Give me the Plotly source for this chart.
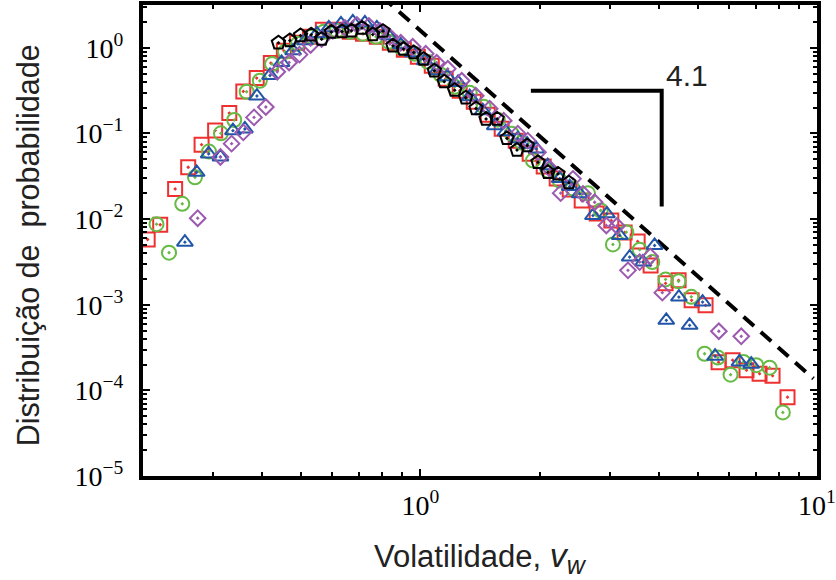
import math
import plotly.graph_objects as go

# ---- binned volatility distributions (five series) ----
sq_x = [0.2055, 0.221, 0.241, 0.260, 0.281, 0.304, 0.330, 0.358, 0.387, 0.420,
        0.453, 0.489, 0.527, 0.568, 0.616, 0.664, 0.717, 0.777, 0.838, 0.909,
        0.986, 1.069, 1.159, 1.257, 1.364, 1.479, 1.604, 1.740, 1.887, 2.047,
        2.207, 2.380, 2.552, 2.784, 3.030, 3.274, 3.531, 3.807, 4.153, 4.478,
        4.830, 5.237, 5.648, 6.127, 6.642, 7.165, 7.726, 8.427]
sq_y = [5.78e-3, 8.59e-3, 0.0225, 0.0403, 0.0740, 0.108, 0.173, 0.310, 0.443, 0.663,
        0.923, 1.144, 1.343, 1.621, 1.621, 1.536, 1.456, 1.343, 1.144, 0.948,
        0.785, 0.617, 0.435, 0.315, 0.2348, 0.1656, 0.1137, 0.0824, 0.0581, 0.0410,
        0.0297, 0.0221, 0.01647, 0.01162, 0.00963, 0.00698, 0.00548, 0.00288, 0.001776, 0.001925,
        0.001125, 0.000984, 0.000213, 0.000225, 0.000172, 0.0001565, 0.0001483, 8.33e-5]

ci_x = [0.2163, 0.2326, 0.2512, 0.2704, 0.2933, 0.3144, 0.3396, 0.365, 0.394, 0.423,
        0.456, 0.491, 0.530, 0.571, 0.616, 0.664, 0.717, 0.773, 0.833, 0.898,
        0.969, 1.044, 1.126, 1.221, 1.332, 1.445, 1.568, 1.700, 1.802, 1.923,
        2.095, 2.246, 2.422, 2.647, 2.85, 3.059, 3.307, 3.572, 3.846, 4.153,
        4.478, 4.821, 5.207, 5.625, 6.055, 6.528, 7.029, 7.594, 8.201]
ci_y = [0.00872, 0.00405, 0.01508, 0.0308, 0.0614, 0.1003, 0.1437, 0.307, 0.4125, 0.6457,
        0.898, 1.113, 1.343, 1.536, 1.578, 1.536, 1.456, 1.343, 1.175, 1.0,
        0.851, 0.687, 0.4845, 0.351, 0.299, 0.2053, 0.1448, 0.0995, 0.0781, 0.0482,
        0.0368, 0.0282, 0.0227, 0.0200, 0.0126, 0.00506, 0.00704, 0.00439, 0.003145, 0.001977,
        0.001874, 0.001236, 0.0002677, 0.0002417, 0.0001524, 0.000215, 0.0001967, 0.000184, 5.52e-5]

tr_x = [0.2551, 0.2731, 0.2928, 0.3135, 0.3371, 0.3613, 0.3875, 0.418, 0.447, 0.478,
        0.512, 0.549, 0.588, 0.631, 0.676, 0.725, 0.777, 0.833, 0.893, 0.957,
        1.026, 1.100, 1.17, 1.245, 1.332, 1.437, 1.541, 1.642, 1.761, 1.86,
        1.962, 2.095, 2.246, 2.38, 2.522, 2.724, 2.954, 3.181, 3.371, 3.641,
        3.896, 4.170, 4.486, 4.774, 5.147, 5.535, 6.378, 6.828]
tr_y = [0.00538, 0.0352, 0.0577, 0.0532, 0.1078, 0.1128, 0.2736, 0.4755, 0.674, 0.923,
        1.207, 1.456, 1.710, 1.905, 2.01, 1.956, 1.710, 1.380, 1.084, 0.874,
        0.706, 0.539, 0.46, 0.394, 0.2685, 0.1844, 0.1233, 0.105, 0.087, 0.075,
        0.066, 0.0421, 0.0297, 0.024, 0.0197, 0.0110, 0.01153, 0.00644, 0.0036, 0.003145,
        0.00492, 0.000658, 0.001229, 0.000575, 0.001075, 0.0002503, 0.000215, 0.000202]

di_x = [0.2747, 0.3135, 0.3345, 0.358, 0.381, 0.408, 0.436, 0.467, 0.496, 0.529,
        0.564, 0.602, 0.646, 0.692, 0.742, 0.791, 0.838, 0.893, 0.957, 1.032,
        1.100, 1.173, 1.272, 1.380, 1.496, 1.623, 1.761, 1.866, 1.980, 2.119,
        2.259, 2.426, 2.571, 2.751, 2.944, 3.131, 3.338, 3.572, 3.800, 4.075,
        5.657, 6.442]
di_y = [0.01024, 0.0532, 0.0760, 0.1030, 0.154, 0.2037, 0.525, 0.674, 0.833, 1.078,
        1.263, 1.578, 1.710, 1.854, 1.805, 1.578, 1.343, 1.144, 1.027, 0.851,
        0.669, 0.569, 0.4125, 0.276, 0.1946, 0.141, 0.0995, 0.0824, 0.0602, 0.0389,
        0.0201, 0.0295, 0.0197, 0.01574, 0.00842, 0.00831, 0.00252, 0.003145, 0.00367, 0.001384,
        0.00049, 0.000428]

pe_x = [0.439, 0.469, 0.499, 0.531, 0.564, 0.597, 0.635, 0.671, 0.713, 0.759,
        0.805, 0.853, 0.907, 0.963, 1.019, 1.085, 1.149, 1.221, 1.302, 1.382,
        1.465, 1.562, 1.654, 1.753, 1.860, 1.980, 2.098, 2.224, 2.369]
pe_y = [1.144, 1.216, 1.391, 1.418, 1.263, 1.528, 1.549, 1.578, 1.701, 1.429,
        1.565, 1.055, 0.966, 0.882, 0.738, 0.539, 0.402, 0.320, 0.2614, 0.1956,
        0.1476, 0.1476, 0.0874, 0.0639, 0.0721, 0.0460, 0.0352, 0.0337, 0.0266]

# ---- power-law guide and slope marker ----
SLOPE = 4.1
SLOPE_LABEL = "4.1"
guide_c = 1.59                 # prefactor of the dashed power law
guide_x = [0.80, 9.8]
tri_x = [1.9, 4.06]            # horizontal leg of the slope marker
tri_top = 0.315

# ---- axis ticks ----
x_major = [1, 10]
x_major_text = ["10<sup>0</sup>", "10<sup>1</sup>"]
y_major = [1e-5, 1e-4, 1e-3, 1e-2, 1e-1, 1]
y_major_text = ["10<sup>\u22125</sup>", "10<sup>\u22124</sup>", "10<sup>\u22123</sup>",
                "10<sup>\u22122</sup>", "10<sup>\u22121</sup>", "10<sup>0</sup>"]

x_minor = [m * 10.0 ** e for e in (-1, 0) for m in range(2, 10)]
y_minor = [m * 10.0 ** e for e in range(-5, 1) for m in range(2, 10)]

series = [
    (sq_x, sq_y, "square-open-dot", "#ee3030", 14),
    (ci_x, ci_y, "circle-open-dot", "#66bb44", 14),
    (tr_x, tr_y, "triangle-up-open-dot", "#2255a8", 14),
    (di_x, di_y, "diamond-open-dot", "#9b59b0", 12),
    (pe_x, pe_y, "pentagon-open-dot", "#000000", 14),
]

fig = go.Figure()

guide_y = [guide_c * x ** (-SLOPE) for x in guide_x]
fig.add_trace(go.Scatter(x=guide_x, y=guide_y, mode="lines",
                         line=dict(color="black", width=4, dash="14px,9px"),
                         hoverinfo="skip"))

for xs, ys, sym, col, sz in series:
    fig.add_trace(go.Scatter(
        x=xs, y=ys, mode="markers",
        marker=dict(symbol=sym, size=sz, color=col,
                    line=dict(width=2, color=col)),
    ))

tri_bottom = tri_top * (tri_x[0] / tri_x[1]) ** SLOPE
fig.add_trace(go.Scatter(x=[tri_x[0], tri_x[1], tri_x[1]],
                         y=[tri_top, tri_top, tri_bottom], mode="lines",
                         line=dict(color="black", width=4), hoverinfo="skip"))

fig.add_annotation(x=math.log10(4.69), y=math.log10(0.477), xref="x", yref="y",
                   text=SLOPE_LABEL, showarrow=False, xanchor="center", yanchor="middle",
                   font=dict(family="Liberation Sans", size=30, color="#222222"))

fig.add_annotation(x=-0.1706, y=0.49, xref="paper", yref="paper",
                   text="Distribui\u00e7\u00e3o de\u00a0 probabilidade", textangle=-90,
                   showarrow=False, xanchor="center", yanchor="middle",
                   font=dict(family="Liberation Sans", size=30.5, color="#222222"))
fig.add_annotation(x=0.5, y=-0.174, xref="paper", yref="paper",
                   text=("Volatilidade, <i><span style='font-size:34px'>v</span></i>"
                         "<sub><i><span style='font-size:25px'>w</span></i></sub>"),
                   showarrow=False, xanchor="center", yanchor="middle",
                   font=dict(family="Liberation Sans", size=31, color="#222222"))

axis_common = dict(
    type="log", showline=True, linewidth=4, linecolor="black", mirror="allticks",
    ticks="inside", ticklen=7, tickwidth=2, tickcolor="black",
    showgrid=False, zeroline=False, automargin=False,
    tickfont=dict(family="Liberation Serif", size=28, color="black"),
)

fig.update_xaxes(range=[math.log10(0.2), 1], tickmode="array",
                 tickvals=x_major, ticktext=x_major_text, ticklabelstandoff=1,
                 minor=dict(tickmode="array", tickvals=x_minor, ticks="inside",
                            ticklen=4, tickwidth=1.5, tickcolor="black", showgrid=False),
                 **axis_common)
fig.update_yaxes(range=[-5, 0.5], tickmode="array",
                 tickvals=y_major, ticktext=y_major_text, ticklabelstandoff=10,
                 minor=dict(tickmode="array", tickvals=y_minor, ticks="inside",
                            ticklen=4, tickwidth=1.5, tickcolor="black", showgrid=False),
                 **axis_common)

fig.update_layout(width=836, height=580, showlegend=False,
                  margin=dict(l=143, r=19, t=5, b=104, autoexpand=False),
                  plot_bgcolor="white", paper_bgcolor="white")

fig.write_html("out.html")
